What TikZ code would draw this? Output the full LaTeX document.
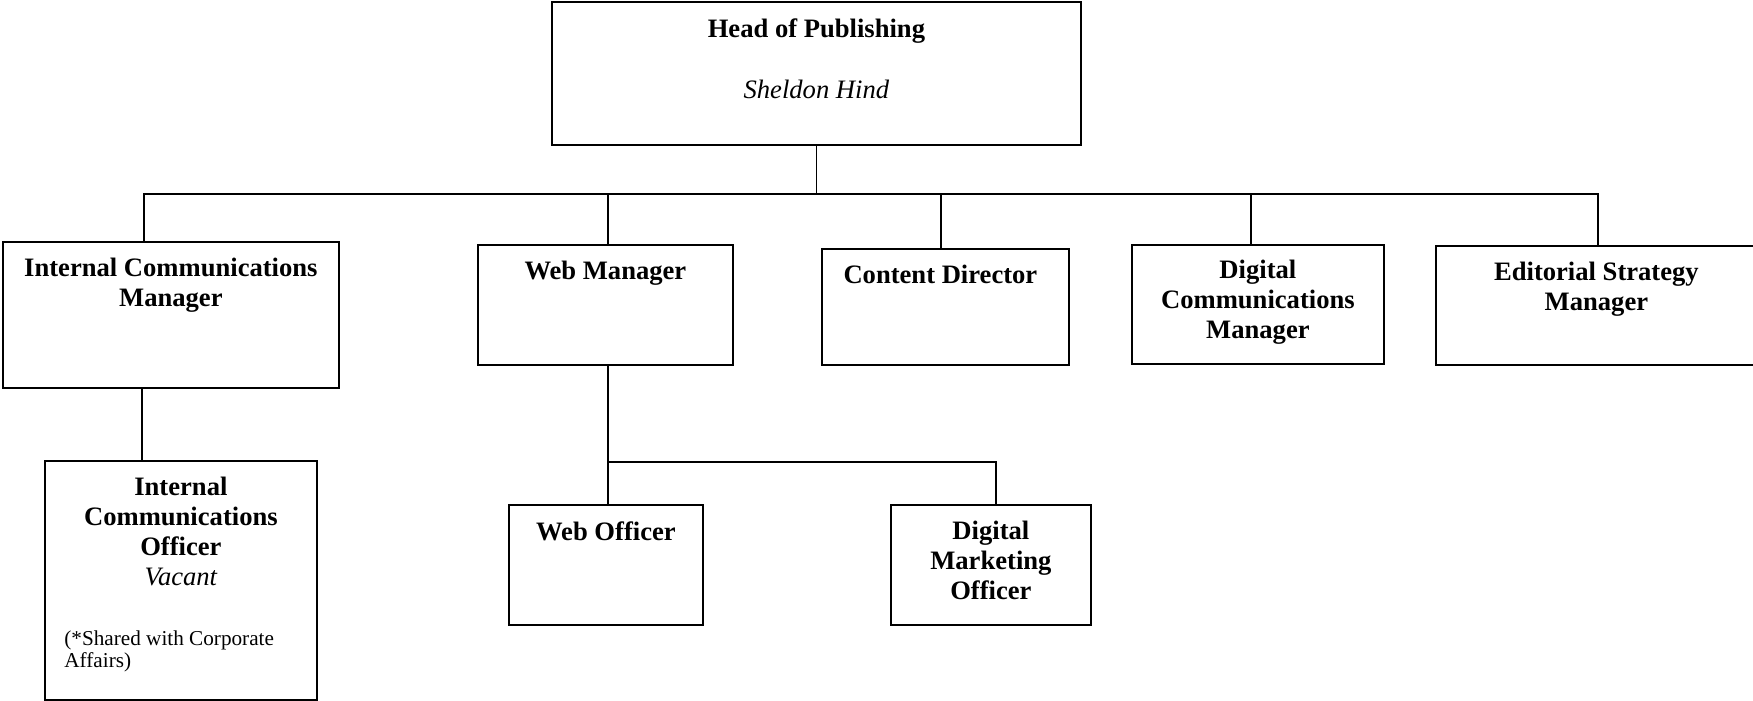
\documentclass[tikz,border=0pt]{standalone}
\usepackage{fontspec}
\setmainfont{Liberation Serif}
\usetikzlibrary{positioning}
\begin{document}
\begin{tikzpicture}[x=0.5pt,y=-0.5pt]
    \tikzstyle{box}=[draw=black,line width=0.9pt,anchor=north west,inner sep=0pt]
    \tikzstyle{title}=[inner sep=0pt,anchor=north,align=center,font=\fontsize{13.3}{15}\selectfont\bfseries]
    \tikzstyle{note}=[inner sep=0pt,anchor=north west,align=left,font=\fontsize{10.6}{11}\selectfont]
    \tikzstyle{link}=[line width=0.75pt]
    \useasboundingbox (0,0) rectangle (1753,701);

    % boxes
    \node[box,minimum width=264.5pt,minimum height=71.5pt] (hp) at (551,1) {};
    \node[box,minimum width=168pt,minimum height=73pt] (icm) at (2,241) {};
    \node[box,minimum width=127.5pt,minimum height=60pt] (wm) at (477,244) {};
    \node[box,minimum width=123.5pt,minimum height=58pt] (cd) at (821,248) {};
    \node[box,minimum width=126pt,minimum height=59.5pt] (dcm) at (1131,244) {};
    \node[box,minimum width=160.5pt,minimum height=59.5pt] (esm) at (1435,245) {};
    \node[box,minimum width=136pt,minimum height=119.5pt] (ico) at (44,460) {};
    \node[box,minimum width=97pt,minimum height=60pt] (wo) at (508,504) {};
    \node[box,minimum width=100pt,minimum height=60pt] (dmo) at (890,504) {};

    % texts
    \node[title,below=8.5pt of hp.north] (hptxt) {Head of Publishing\\[15.5pt]{\mdseries\itshape Sheldon Hind}};
    \node[title,below=8.5pt of icm.north] (icmtxt) {Internal Communications\\Manager};
    \node[title,below=8.5pt of wm.north] (wmtxt) {Web Manager};
    \node[title,below=8.5pt of cd.north,xshift=-2.5pt] (cdtxt) {Content Director};
    \node[title,below=8pt of dcm.north] (dcmtxt) {Digital\\Communications\\Manager};
    \node[title,below=8.5pt of esm.north] (esmtxt) {Editorial Strategy\\Manager};
    \node[title,below=8.5pt of ico.north] (icotxt) {Internal\\Communications\\Officer\\{\mdseries\itshape Vacant}};
    \node[note] (iconote) at (64,630) {(*Shared with Corporate\\Affairs)};
    \node[title,below=8.5pt of wo.north] (wotxt) {Web Officer};
    \node[title,below=8.5pt of dmo.north] (dmotxt) {Digital\\Marketing\\Officer};

    % connectors
    \coordinate (hpbus) at ([yshift=-24pt]hp.south);
    \coordinate (wmbus) at ([yshift=-48pt]wm.south);
    \coordinate (icmdrop) at ([xshift=-14.5pt]icm.south);

    \draw[link] (hp.south) -- (hpbus);
    \draw[link] ([xshift=-13.5pt]icm.north) |- (hpbus);
    \draw[link] ([xshift=1.25pt]wm.north) |- (hpbus);
    \draw[link] ([xshift=-2.25pt]cd.north) |- (hpbus);
    \draw[link] ([xshift=-3.5pt]dcm.north) |- (hpbus);
    \draw[link] ([xshift=0.75pt]esm.north) |- (hpbus);

    \draw[link] (icmdrop) -- (icmdrop |- ico.north);

    \draw[link] ([xshift=1.25pt]wm.south) -- ([xshift=1.25pt]wmbus);
    \draw[link] ([xshift=1pt]wo.north) |- ([xshift=1.25pt]wmbus);
    \draw[link] ([xshift=2.5pt]dmo.north) |- ([xshift=1.25pt]wmbus);
\end{tikzpicture}
\end{document}
